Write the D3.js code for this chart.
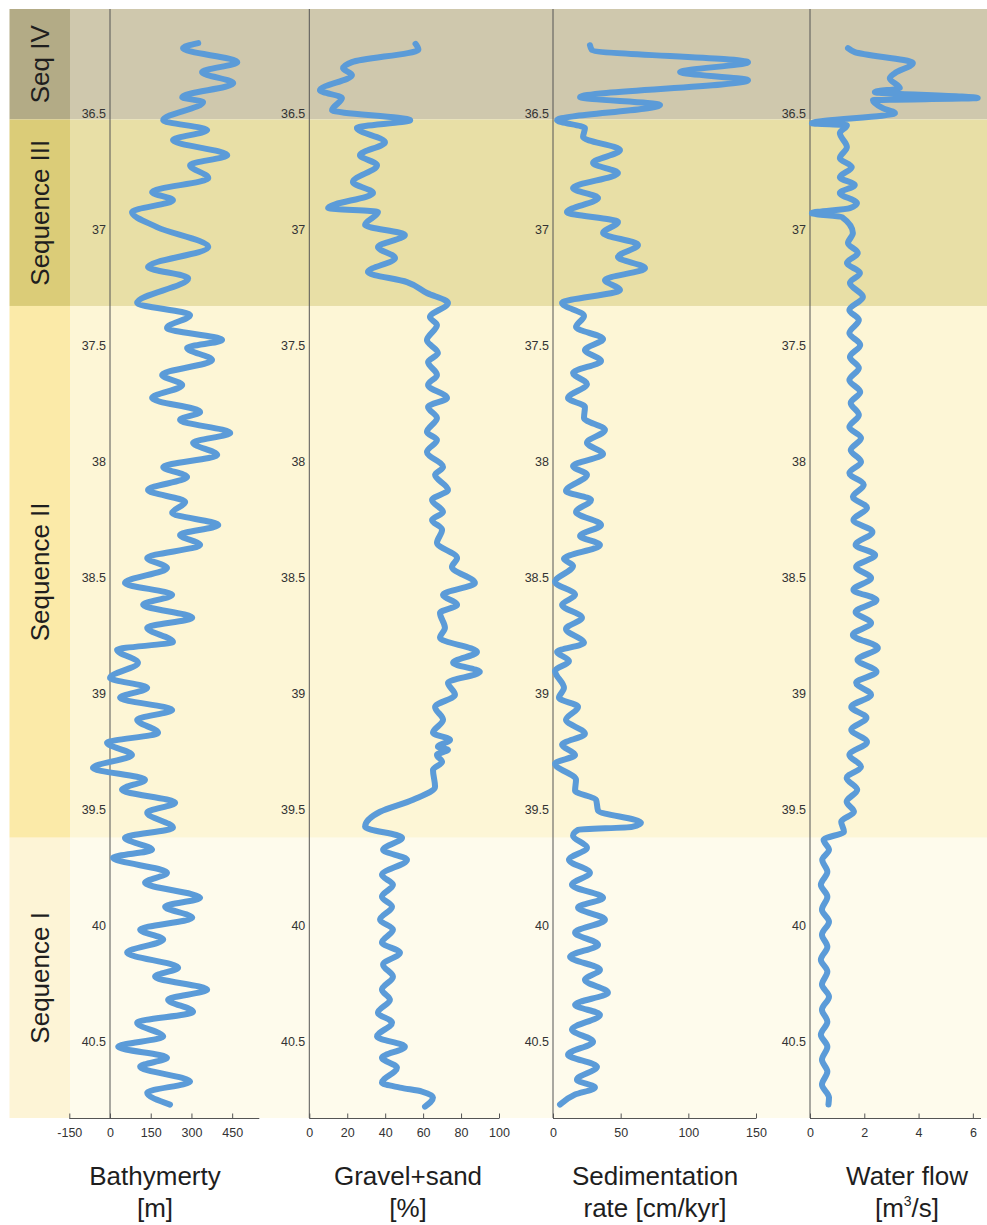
<!DOCTYPE html>
<html><head><meta charset="utf-8">
<script src="https://cdn.jsdelivr.net/npm/d3@7"></script>
<style>body{margin:0;background:#fff}svg{display:block}text{font-family:"Liberation Sans",Arial,sans-serif}</style>
</head><body><svg id="c" width="987" height="1225"></svg>
<script>
// ---------- data ----------
const seqNames = ["Seq IV", "Sequence III", "Sequence II", "Sequence I"];
const seqBounds = [36.05, 36.526, 37.33, 39.622, 40.83];
const depthTicks = [36.5, 37, 37.5, 38, 38.5, 39, 39.5, 40, 40.5];

const bathyTicks = [-150, 0, 150, 300, 450];
const gravelTicks = [0, 20, 40, 60, 80, 100];
const sedTicks = [0, 50, 100, 150];
const flowTicks = [0, 2, 4, 6];

const bathyDepth = [36.197,36.219,36.279,36.322,36.370,36.430,36.451,36.529,36.572,36.615,
36.680,36.723,36.779,36.839,36.874,36.925,36.990,37.076,37.162,37.210,
37.317,37.369,37.425,37.477,37.511,37.563,37.627,37.671,37.727,37.787,
37.821,37.877,37.920,37.972,38.024,38.067,38.123,38.175,38.222,38.274,
38.317,38.360,38.416,38.459,38.524,38.575,38.618,38.674,38.717,38.778,
38.812,38.868,38.933,38.976,39.019,39.071,39.114,39.170,39.213,39.265,
39.321,39.372,39.415,39.471,39.514,39.579,39.622,39.674,39.708,39.773,
39.816,39.881,39.919,39.967,40.018,40.061,40.117,40.182,40.221,40.277,
40.320,40.372,40.419,40.479,40.523,40.570,40.609,40.673,40.721,40.772];
const bathyValue = [325,269,469,339,454,266,343,196,358,232,
432,295,362,155,232,81,173,362,140,288,
100,295,210,413,284,376,192,266,155,332,
258,443,306,395,196,284,140,277,229,399,
258,332,137,210,55,229,122,303,137,232,
26,103,0,137,37,229,100,177,-11,81,
-63,129,44,240,137,232,55,155,11,210,
129,332,203,303,111,196,63,251,166,358,
214,306,100,196,30,210,111,295,137,221];

const gravelDepth = [36.200,36.225,36.279,36.305,36.335,36.400,36.434,36.486,36.529,36.563,
36.624,36.680,36.723,36.796,36.843,36.908,36.925,36.981,37.024,37.076,
37.123,37.184,37.227,37.274,37.317,37.378,37.412,37.477,37.533,37.572,
37.627,37.671,37.727,37.765,37.813,37.873,37.908,37.959,38.024,38.058,
38.123,38.166,38.218,38.252,38.295,38.351,38.416,38.455,38.524,38.575,
38.618,38.653,38.717,38.760,38.821,38.868,38.907,38.954,39.006,39.058,
39.114,39.170,39.200,39.230,39.243,39.265,39.295,39.329,39.402,39.458,
39.510,39.575,39.622,39.674,39.717,39.782,39.825,39.876,39.919,39.975,
40.018,40.074,40.117,40.169,40.221,40.277,40.320,40.376,40.419,40.479,
40.523,40.570,40.613,40.678,40.699,40.716,40.742,40.781];
const gravelValue = [56.0,57.5,22.5,17.8,22.5,5.6,17.2,12.0,53.2,25.1,
39.9,26.7,35.7,23.0,33.6,9.9,36.2,29.4,50.4,36.2,
45.2,30.9,51.5,62.0,73.1,63.6,67.3,62.0,67.8,62.6,
67.3,62.6,72.6,62.6,67.3,62.0,67.3,62.0,70.5,66.3,
73.1,64.7,70.5,64.7,70.0,67.3,77.9,75.2,87.3,70.5,
77.9,68.9,71.5,68.9,88.4,75.8,89.9,73.1,76.8,66.3,
70.5,65.2,74.2,67.8,73.1,67.3,70.0,65.2,66.3,54.7,
37.3,29.4,48.9,38.9,51.5,38.3,44.1,38.3,43.6,37.3,
44.1,38.3,47.8,38.9,44.1,38.3,42.5,36.2,43.6,35.7,
50.4,38.3,46.2,38.3,47.8,59.4,65.2,61.0];

const sedDepth = [36.206,36.227,36.279,36.322,36.357,36.430,36.464,36.529,36.563,36.602,
36.658,36.714,36.757,36.822,36.865,36.925,36.968,37.016,37.067,37.119,
37.167,37.218,37.261,37.317,37.373,37.421,37.472,37.520,37.567,37.619,
37.666,37.727,37.765,37.813,37.864,37.920,37.968,38.020,38.058,38.127,
38.166,38.218,38.274,38.321,38.360,38.420,38.450,38.519,38.575,38.618,
38.674,38.722,38.782,38.821,38.860,38.903,38.976,39.019,39.058,39.114,
39.174,39.221,39.265,39.303,39.372,39.419,39.458,39.505,39.557,39.575,
39.588,39.613,39.665,39.717,39.773,39.825,39.881,39.923,39.975,40.031,
40.083,40.135,40.191,40.234,40.290,40.342,40.385,40.449,40.501,40.557,
40.609,40.665,40.699,40.729,40.772];
const sedValue = [27.3,28.8,144.1,93.9,144.1,20.0,79.1,3.0,23.6,22.2,
49.5,29.6,48.0,14.8,33.3,10.3,48.0,37.0,62.8,48.0,
68.0,38.4,49.5,6.7,22.9,17.0,37.0,23.6,35.5,14.8,
25.1,11.1,23.6,22.9,38.4,25.1,37.0,14.8,25.1,9.6,
28.1,17.0,35.5,20.0,34.7,8.1,14.8,1.5,16.3,6.7,
21.4,9.6,22.9,3.0,11.8,1.5,8.1,4.4,18.5,9.6,
23.6,6.7,16.3,1.5,17.0,16.3,31.8,33.3,65.0,58.4,
18.5,14.8,25.1,11.8,27.3,14.0,37.0,18.5,38.4,16.3,
33.3,12.6,34.7,23.6,40.6,16.3,34.7,14.0,29.6,11.1,
32.5,17.7,31.0,16.3,5.2];

const flowDepth = [36.219,36.236,36.283,36.326,36.348,36.391,36.408,36.434,36.443,36.477,
36.499,36.542,36.551,36.585,36.645,36.693,36.731,36.775,36.809,36.843,
36.887,36.908,36.930,36.947,37.016,37.059,37.102,37.145,37.188,37.231,
37.291,37.347,37.391,37.447,37.498,37.550,37.597,37.649,37.701,37.748,
37.800,37.852,37.899,37.951,38.002,38.050,38.101,38.153,38.200,38.252,
38.304,38.360,38.403,38.455,38.502,38.554,38.597,38.649,38.696,38.748,
38.804,38.855,38.907,38.954,39.006,39.058,39.105,39.157,39.209,39.265,
39.316,39.364,39.415,39.467,39.510,39.553,39.596,39.631,39.674,39.717,
39.769,39.825,39.876,39.932,39.984,40.040,40.092,40.148,40.199,40.255,
40.307,40.363,40.415,40.471,40.523,40.579,40.630,40.686,40.742,40.772];
const flowValue = [1.40,1.65,3.79,3.13,2.94,3.31,2.39,6.18,2.32,2.68,
3.13,0.07,1.36,1.10,1.36,1.10,1.54,1.10,1.65,1.10,
1.73,1.47,0.07,1.18,1.58,1.40,1.76,1.36,1.84,1.47,
1.95,1.45,1.80,1.45,1.85,1.47,1.80,1.45,1.85,1.50,
1.80,1.45,1.88,1.50,1.88,1.45,1.98,1.58,2.10,1.60,
2.30,1.68,2.40,1.70,2.25,1.60,2.45,1.68,2.25,1.58,
2.50,1.75,2.45,1.70,2.25,1.52,2.08,1.52,2.10,1.45,
1.88,1.35,1.74,1.35,1.62,1.15,1.25,0.50,0.70,0.45,
0.64,0.40,0.64,0.44,0.70,0.44,0.64,0.40,0.64,0.44,
0.70,0.44,0.64,0.40,0.64,0.44,0.64,0.44,0.70,0.68];

// ---------- styles / layout ----------
const seqFill = ["#cfc8ad", "#e8dfa6", "#fdf6d6", "#fefbec"];
const seqLabelFill = ["#b3ab86", "#dbcc78", "#fbeaa8", "#fdf4d6"];
const lineColor = "#5b9bd8";

const svg = d3.select("#c");
svg.append("rect").attr("width", 987).attr("height", 1225).attr("fill", "#fff");

const y = d3.scaleLinear().domain([seqBounds[0], seqBounds[4]]).range([9, 1118]);

const bands = seqNames.map((n, i) => ({ name: n, top: seqBounds[i], bot: seqBounds[i + 1], fill: seqFill[i], lab: seqLabelFill[i] }));
svg.selectAll("rect.band").data(bands).join("rect").attr("class", "band")
  .attr("x", 70).attr("width", 917)
  .attr("y", d => y(d.top)).attr("height", d => y(d.bot) - y(d.top)).attr("fill", d => d.fill);
svg.selectAll("rect.lab").data(bands).join("rect").attr("class", "lab")
  .attr("x", 9.5).attr("width", 60.5)
  .attr("y", d => y(d.top)).attr("height", d => y(d.bot) - y(d.top)).attr("fill", d => d.lab);
svg.selectAll("text.seq").data(bands).join("text").attr("class", "seq")
  .attr("transform", d => `translate(49,${(y(d.top) + y(d.bot)) / 2}) rotate(-90)`)
  .attr("text-anchor", "middle").attr("font-size", 26).attr("fill", "#1e1e1e")
  .text(d => d.name);

const panels = [
  { depth: bathyDepth, value: bathyValue, ticks: bathyTicks, domain: [-150, 550], range: [69.3, 259.3], title: ["Bathymerty", "[m]"], cx: 155 },
  { depth: gravelDepth, value: gravelValue, ticks: gravelTicks, domain: [0, 100], range: [309.3, 499], title: ["Gravel+sand", "[%]"], cx: 408 },
  { depth: sedDepth, value: sedValue, ticks: sedTicks, domain: [0, 150], range: [553, 756], title: ["Sedimentation", "rate [cm/kyr]"], cx: 655 },
  { depth: flowDepth, value: flowValue, ticks: flowTicks, domain: [0, 6.3], range: [810, 981], title: ["Water flow", null], cx: 907 }
];

panels.forEach((p, i) => {
  const x = d3.scaleLinear().domain(p.domain).range(p.range);
  const g = svg.append("g");
  const x0 = x(0);
  g.append("line").attr("x1", x0).attr("x2", x0).attr("y1", 9).attr("y2", 1118)
    .attr("stroke", "#555").attr("stroke-width", 1);
  const ax = d3.axisLeft(y).tickValues(depthTicks).tickSize(0).tickPadding(4).tickFormat(d => String(d));
  const ga = g.append("g").attr("transform", `translate(${x0},0)`).call(ax);
  ga.select(".domain").remove();
  ga.selectAll("text").attr("font-size", 12.5).attr("fill", "#333").attr("font-family", '"Liberation Sans",Arial,sans-serif');
  const bx = d3.axisBottom(x).tickValues(p.ticks).tickSize(-5).tickPadding(10).tickFormat(d => String(d));
  const gb = g.append("g").attr("transform", "translate(0,1118.5)").call(bx);
  gb.select(".domain").attr("stroke", "#555").attr("d", `M${p.range[0]},0H${p.range[1]}`);
  gb.selectAll(".tick line").attr("stroke", "#555");
  gb.selectAll("text").attr("font-size", 12.5).attr("fill", "#333").attr("font-family", '"Liberation Sans",Arial,sans-serif');
  const pts = p.depth.map((d, k) => ({ d, v: p.value[k] }));
  g.append("path").datum(pts)
    .attr("d", d3.line().x(d => x(d.v)).y(d => y(d.d)).curve(d3.curveMonotoneY))
    .attr("fill", "none").attr("stroke", lineColor).attr("stroke-width", 6)
    .attr("stroke-linejoin", "round").attr("stroke-linecap", "round");
  const t = svg.append("text").attr("text-anchor", "middle").attr("font-size", 26).attr("fill", "#1e1e1e");
  t.append("tspan").attr("x", p.cx).attr("y", 1185).text(p.title[0]);
  const t2 = t.append("tspan").attr("x", p.cx).attr("y", 1217);
  if (p.title[1]) t2.text(p.title[1]);
  else {
    t2.text("[m");
    t2.append("tspan").attr("dy", -11).attr("font-size", 14).text("3");
    t2.append("tspan").attr("dy", 11).text("/s]");
  }
});
</script></body></html>
